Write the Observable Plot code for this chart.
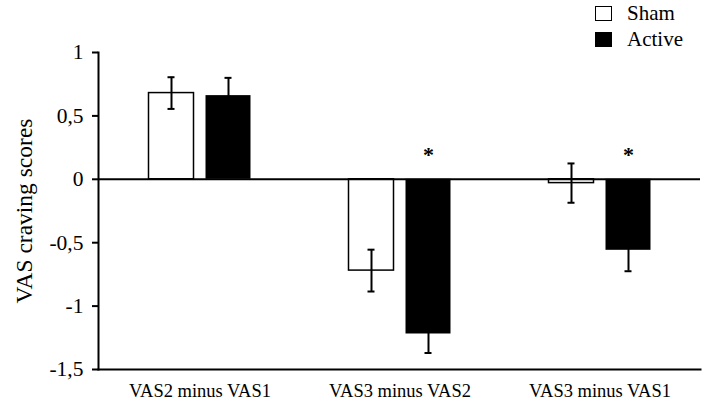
<!DOCTYPE html>
<html>
<head>
<meta charset="utf-8">
<script src="https://cdn.jsdelivr.net/npm/d3@7"></script>
<script src="https://cdn.jsdelivr.net/npm/@observablehq/plot@0.6"></script>
<style>
  html, body { margin: 0; padding: 0; background: #fff; }
  #wrap { position: relative; width: 709px; height: 403px; font-family: 'Liberation Serif', serif; }
  #wrap svg, #wrap svg text { font-family: 'Liberation Serif', serif !important; }
  .lg { position: absolute; left: 595px; width: 17px; height: 15px; box-sizing: border-box; }
  .lt { position: absolute; left: 627px; font-size: 21px; line-height: 1; font-family: 'Liberation Serif', serif; }
</style>
</head>
<body>
<div id="wrap">
  <div id="chart"></div>
  <div class="lg" style="top:6px; background:#fff; border:1.5px solid #000;"></div>
  <div class="lt" style="top:3px;">Sham</div>
  <div class="lg" style="top:32px; background:#000;"></div>
  <div class="lt" style="top:29px;">Active</div>
</div>
<script>
const groups = ["VAS2 minus VAS1", "VAS3 minus VAS2", "VAS3 minus VAS1"];
const shamMean = [0.68, -0.72, -0.03];
const shamErr = [0.125, 0.165, 0.155];
const activeMean = [0.66, -1.22, -0.56];
const activeErr = [0.14, 0.15, 0.165];
const significant = [false, true, true];
const yTicks = [-1.5, -1, -0.5, 0, 0.5, 1];
const yLabel = "VAS craving scores";

const rows = groups.map((g, i) => ({
  group: g,
  sham: shamMean[i], shamErr: shamErr[i],
  active: activeMean[i], activeErr: activeErr[i],
  sig: significant[i]
}));

const off = 28.5;
const font = "'Liberation Serif', serif";

const chart = Plot.plot({
  width: 709, height: 403,
  marginLeft: 98, marginRight: 9, marginTop: 52, marginBottom: 34,
  style: { fontFamily: font, background: "#fff", color: "#000" },
  x: { domain: groups, paddingInner: 0.776, paddingOuter: 0.388 },
  y: { domain: [-1.5, 1] },
  marks: [
    Plot.axisX({ tickSize: 0, tickPadding: 14, fontSize: 18.5, label: null, fontFamily: font }),
    Plot.axisY({ ticks: yTicks, tickSize: 6, tickPadding: 9, strokeWidth: 2, fontSize: 21.5, fontFamily: font,
      tickFormat: d => String(d).replace(".", ","), label: null }),
    Plot.text([yLabel], { text: d => d, frameAnchor: "left", textAnchor: "middle", rotate: -90, dx: -74, fontSize: 23.5, fontFamily: font }),
    Plot.barY(rows, { x: "group", y: "sham", dx: -off, fill: "white", stroke: "black", strokeWidth: 1.5 }),
    Plot.barY(rows, { x: "group", y: "active", dx: off, fill: "black" }),
    Plot.ruleY([0], { stroke: "black", strokeWidth: 2 }),
    Plot.ruleX(rows, { x: "group", y1: d => d.sham - d.shamErr, y2: d => d.sham + d.shamErr, dx: -off, strokeWidth: 2 }),
    Plot.tickY(rows, { x: "group", y: d => d.sham + d.shamErr, dx: -off, insetLeft: 19, insetRight: 19, strokeWidth: 2 }),
    Plot.tickY(rows, { x: "group", y: d => d.sham - d.shamErr, dx: -off, insetLeft: 19, insetRight: 19, strokeWidth: 2 }),
    Plot.ruleX(rows, { x: "group", y1: d => d.active - d.activeErr, y2: d => d.active + d.activeErr, dx: off, strokeWidth: 2 }),
    Plot.tickY(rows, { x: "group", y: d => d.active + d.activeErr, dx: off, insetLeft: 19, insetRight: 19, strokeWidth: 2 }),
    Plot.tickY(rows, { x: "group", y: d => d.active - d.activeErr, dx: off, insetLeft: 19, insetRight: 19, strokeWidth: 2 }),
    Plot.text(rows.filter(d => d.sig), { x: "group", y: 0, dx: off, dy: -24, text: () => "*", fontSize: 22, fontWeight: "bold", fontFamily: font }),
    Plot.frame({ anchor: "left", stroke: "black", strokeWidth: 2 }),
    Plot.frame({ anchor: "bottom", stroke: "black", strokeWidth: 2 })
  ]
});
document.getElementById("chart").appendChild(chart);
</script>
</body>
</html>
